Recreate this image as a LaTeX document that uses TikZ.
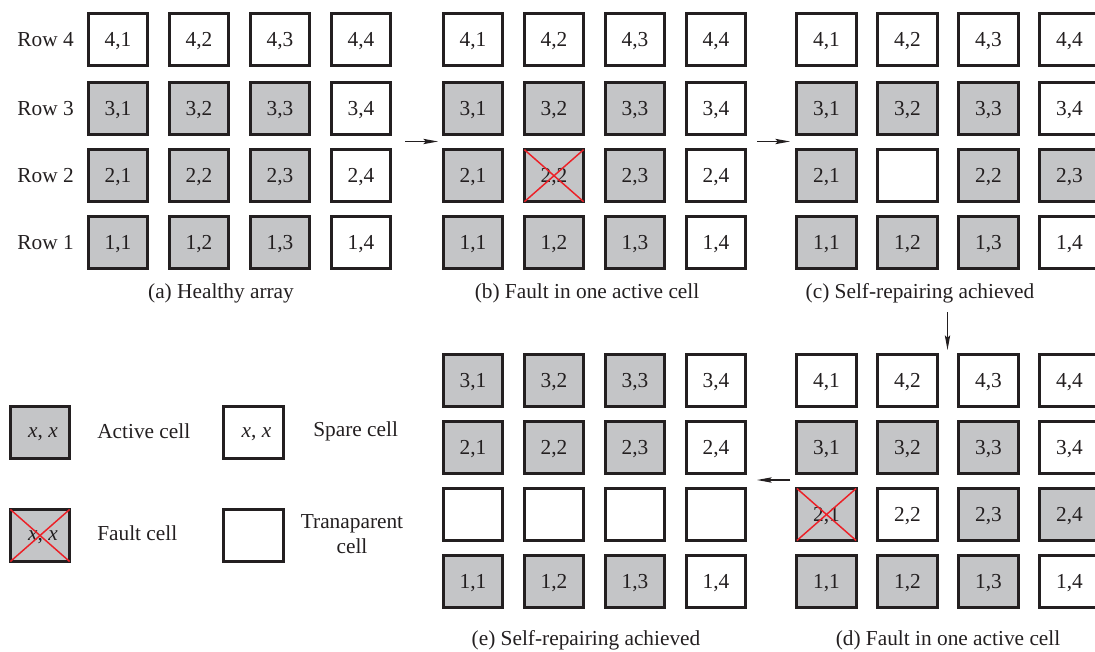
\documentclass[tikz,border=0pt]{standalone}
\usepackage{fontspec}
\setmainfont{Liberation Serif}
\usetikzlibrary{arrows.meta}
\definecolor{cellgray}{RGB}{196,197,199}
\definecolor{ink}{RGB}{35,31,32}
\definecolor{xred}{RGB}{236,32,39}
\begin{document}
\begin{tikzpicture}[x=0.75pt,y=-0.75pt,
  font=\fontsize{16}{18.5}\selectfont, text=ink,
  cellbox/.style={draw=ink, line width=2.2pt, outer sep=0pt, inner sep=0pt,
    minimum width=44.4pt, minimum height=39pt, text height=10.5pt, text depth=0pt},
  lbl/.style={inner sep=0pt},
  cross/.style={draw=xred, line width=1.1pt},
  arr/.style={draw=ink, line width=0.8pt, -{Stealth[length=11pt,width=4pt,inset=2pt]}}]
\useasboundingbox (0,0) rectangle (1095,652);

% ---------- grid (a) ----------
\foreach \r/\y in {4/39.5,3/108.8,2/175.7,1/242.7}{
  \node[lbl, anchor=east, text height=10.5pt, text depth=0pt] (arow\r) at (74,\y) {Row \r};
  \foreach \c/\x in {1/118,2/199,3/280,4/361}{
    \ifnum\c=4 \def\fc{white}\else\ifnum\r=4 \def\fc{white}\else\def\fc{cellgray}\fi\fi
    \node[cellbox, fill=\fc] (a\r\c) at (\x,\y) {\r,\c};
  }
}
\node[lbl] (capa) at (221,293) {(a) Healthy array};

% ---------- grid (b) ----------
\foreach \r/\y in {4/39.5,3/108.8,2/175.7,1/242.7}{
  \foreach \c/\x in {1/473,2/554,3/635,4/716}{
    \ifnum\c=4 \def\fc{white}\else\ifnum\r=4 \def\fc{white}\else\def\fc{cellgray}\fi\fi
    \node[cellbox, fill=\fc] (b\r\c) at (\x,\y) {\r,\c};
  }
}
\draw[cross] (b22.north west) -- (b22.south east) (b22.north east) -- (b22.south west);
\node[lbl] (capb) at (587,293) {(b) Fault in one active cell};

% ---------- grid (c) ----------
\foreach \n/\x/\y/\fc/\t in {
  c41/826.5/39.5/white/{4,1}, c42/907.5/39.5/white/{4,2}, c43/988.5/39.5/white/{4,3}, c44/1069.5/39.5/white/{4,4},
  c31/826.5/108.8/cellgray/{3,1}, c32/907.5/108.8/cellgray/{3,2}, c33/988.5/108.8/cellgray/{3,3}, c34/1069.5/108.8/white/{3,4},
  c21/826.5/175.7/cellgray/{2,1}, c22/907.5/175.7/white/{}, c23/988.5/175.7/cellgray/{2,2}, c24/1069.5/175.7/cellgray/{2,3},
  c11/826.5/242.7/cellgray/{1,1}, c12/907.5/242.7/cellgray/{1,2}, c13/988.5/242.7/cellgray/{1,3}, c14/1069.5/242.7/white/{1,4}}{
  \node[cellbox, fill=\fc] (\n) at (\x,\y) {\t};
}
\node[lbl] (capc) at (920,293) {(c) Self-repairing achieved};

% ---------- grid (d) ----------
\foreach \n/\x/\y/\fc/\t in {
  d41/826.5/380.5/white/{4,1}, d42/907.5/380.5/white/{4,2}, d43/988.5/380.5/white/{4,3}, d44/1069.5/380.5/white/{4,4},
  d31/826.5/447.5/cellgray/{3,1}, d32/907.5/447.5/cellgray/{3,2}, d33/988.5/447.5/cellgray/{3,3}, d34/1069.5/447.5/white/{3,4},
  d21/826.5/514.5/cellgray/{2,1}, d22/907.5/514.5/white/{2,2}, d23/988.5/514.5/cellgray/{2,3}, d24/1069.5/514.5/cellgray/{2,4},
  d11/826.5/581.5/cellgray/{1,1}, d12/907.5/581.5/cellgray/{1,2}, d13/988.5/581.5/cellgray/{1,3}, d14/1069.5/581.5/white/{1,4}}{
  \node[cellbox, fill=\fc] (\n) at (\x,\y) {\t};
}
\draw[cross] (d21.north west) -- (d21.south east) (d21.north east) -- (d21.south west);
\node[lbl] (capd) at (948,640) {(d) Fault in one active cell};

% ---------- grid (e) ----------
\foreach \n/\x/\y/\fc/\t in {
  e31/473/380.5/cellgray/{3,1}, e32/554/380.5/cellgray/{3,2}, e33/635/380.5/cellgray/{3,3}, e34/716/380.5/white/{3,4},
  e21/473/447.5/cellgray/{2,1}, e22/554/447.5/cellgray/{2,2}, e23/635/447.5/cellgray/{2,3}, e24/716/447.5/white/{2,4},
  et1/473/514.5/white/{}, et2/554/514.5/white/{}, et3/635/514.5/white/{}, et4/716/514.5/white/{},
  e11/473/581.5/cellgray/{1,1}, e12/554/581.5/cellgray/{1,2}, e13/635/581.5/cellgray/{1,3}, e14/716/581.5/white/{1,4}}{
  \node[cellbox, fill=\fc] (\n) at (\x,\y) {\t};
}
\node[lbl] (cape) at (586,640) {(e) Self-repairing achieved};

% ---------- arrows ----------
\coordinate (ab1) at (405,141.5); \coordinate (ab2) at (438,141.5);
\coordinate (bc1) at (757,141.5); \coordinate (bc2) at (790,141.5);
\coordinate (cd1) at (947.5,312); \coordinate (cd2) at (947.5,350);
\coordinate (de1) at (790,480);   \coordinate (de2) at (757,480);
\draw[arr] (ab1) -- (ab2);
\draw[arr] (bc1) -- (bc2);
\draw[arr] (cd1) -- (cd2);
\draw[arr] (de1) -- (de2);

% ---------- legend ----------
\node[cellbox, fill=cellgray, text height=7pt] (legact) at (40,432.5) {\hspace{4.5pt}\textit{x}, \textit{x}};
\node[lbl, anchor=west] (legacttxt) at (97,431) {Active cell};
\node[cellbox, fill=white, text height=7pt] (legspr) at (253.5,432.5) {\hspace{4.5pt}\textit{x}, \textit{x}};
\node[lbl, anchor=west] (legsprtxt) at (313,431) {Spare cell};
\node[cellbox, fill=cellgray, text height=7pt] (legflt) at (40,535.5) {\hspace{4.5pt}\textit{x}, \textit{x}};
\draw[cross] (legflt.north west) -- (legflt.south east) (legflt.north east) -- (legflt.south west);
\node[lbl, anchor=west] (legflttxt) at (97,533) {Fault cell};
\node[cellbox, fill=white] (legtrn) at (253.5,535.5) {};
\node[lbl, align=center] (legtrntxt) at (352,534) {Tranaparent\\cell};
\end{tikzpicture}
\end{document}
